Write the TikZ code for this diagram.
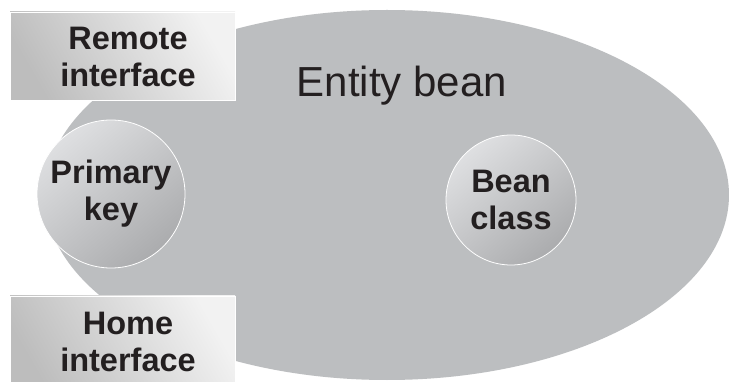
\documentclass[tikz,border=0pt]{standalone}
\usepackage{fontspec}
\setmainfont{Liberation Sans}
\definecolor{ellfill}{HTML}{BCBEC0}
\definecolor{txt}{HTML}{231F20}
\definecolor{circlight}{HTML}{DEDFE1}
\definecolor{circdark}{HTML}{ABACAE}
\definecolor{boxdark}{HTML}{BDBDBD}
\definecolor{boxlight}{HTML}{F2F2F2}
\tikzset{
  boxstyle/.style={draw=white, line width=0.8pt, top color=boxlight, bottom color=boxdark, shading angle=-60},
  circstyle/.style={circle, draw=white, line width=0.8pt, top color=circlight, bottom color=circdark, shading angle=40},
  lbl/.style={align=center, text=txt, font=\fontsize{32.5}{37}\selectfont\bfseries}
}
\begin{document}
\begin{tikzpicture}[x=1pt,y=-1pt]
\useasboundingbox (0,0) rectangle (729,382);
\clip (0,0) rectangle (729,382);
\fill[white] (0,0) rectangle (729,382);
% entity bean ellipse
\fill[ellfill] (387,195) ellipse [x radius=342, y radius=185];
\node[text=txt, font=\fontsize{42}{50}\selectfont] (title) at (402,86) {Entity bean};
% boxes
\shade[boxstyle] (10,12) rectangle (235,100);
\node[lbl] (remote) at (128,57) {Remote\\interface};
\shade[boxstyle] (10,296) rectangle (235,392);
\node[lbl] (home) at (128,342) {Home\\interface};
% circles
\node[circstyle, minimum size=148pt] (pkc) at (111,194) {};
\node[lbl] (pk) at (111,194) {Primary\\key};
\node[circstyle, minimum size=130pt] (bcc) at (511,200) {};
\node[lbl] (bc) at (511,200) {Bean\\class};
\end{tikzpicture}
\end{document}
